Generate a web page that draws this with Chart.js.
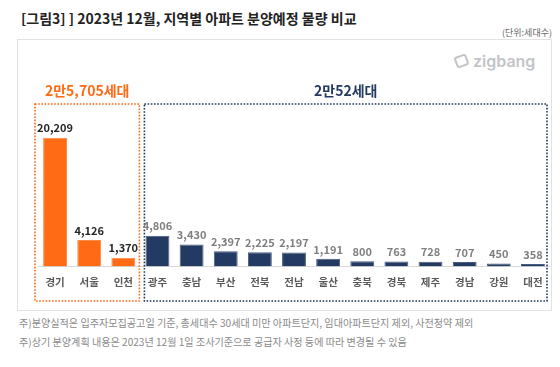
<!DOCTYPE html>
<html>
<head>
<meta charset="utf-8">
<script src="https://cdn.jsdelivr.net/npm/chart.js@4"></script>
<style>
  body { margin: 0; width: 560px; height: 367px; background: #fff; position: relative; overflow: hidden;
         font-family: "Noto Sans CJK KR", "Noto Sans", sans-serif; }
  #title { position: absolute; left: 21px; top: 8px; font-size: 14px; font-weight: bold; color: #222; white-space: nowrap; }
  #unit { position: absolute; right: 8px; top: 26px; font-size: 9px; color: #666; }
  #card { position: absolute; left: 17px; top: 39px; width: 535px; height: 272px; border: 1px solid #e2e2e2; box-sizing: border-box; }
  #logo { position: absolute; left: 455px; top: 51px; font-family: "Inter", "Noto Sans", sans-serif; font-size: 16px; font-weight: 600; color: #c2c4c8; }
  #logo i { display: inline-block; width: 9px; height: 8px; border: 2px solid #c2c4c8; border-radius: 3px; transform: rotate(-20deg); margin-right: 5px; vertical-align: 0px; }
  .note { position: absolute; left: 19px; font-size: 10.1px; color: #8a8a8a; white-space: nowrap; }
  #wrap { position: absolute; left: 0; top: 0; width: 560px; height: 367px; }
</style>
</head>
<body>
<div id="title">[그림3] ] 2023년 12월, 지역별 아파트 분양예정 물량 비교</div>
<div id="unit">(단위:세대수)</div>
<div id="card"></div>
<div id="logo"><i></i>zigbang</div>
<div class="note" style="top:315px">주)분양실적은 입주자모집공고일 기준, 총세대수 30세대 미만 아파트단지, 임대아파트단지 제외, 사전청약 제외</div>
<div class="note" style="top:334px">주)상기 분양계획 내용은 2023년 12월 1일 조사기준으로 공급자 사정 등에 따라 변경될 수 있음</div>
<div id="wrap"><canvas id="chart"></canvas></div>
<script>
const regions = ['경기', '서울', '인천', '광주', '충남', '부산', '전북', '전남', '울산', '충북', '경북', '제주', '경남', '강원', '대전'];
const units = [20209, 4126, 1370, 4806, 3430, 2397, 2225, 2197, 1191, 800, 763, 728, 707, 450, 358];
const metroCount = 3; // first 3 regions = 수도권
const groupTitles = ['2만5,705세대', '2만52세대'];

const orange = '#ff6a14';
const navy = '#233a63';

const ctx = document.getElementById('chart').getContext('2d');

// dotted group boxes, group titles and value labels
const decorations = {
    id: 'decorations',
    afterDatasetsDraw(chart) {
        const c = chart.ctx;
        const x = chart.scales.x;
        const half = (x.getPixelForValue(1) - x.getPixelForValue(0)) / 2;
        const top = chart.chartArea.top;
        const bottom = 301;
        const groups = [
            { from: 0, to: metroCount - 1, color: orange, title: groupTitles[0] },
            { from: metroCount, to: regions.length - 1, color: navy, title: groupTitles[1] }
        ];
        groups.forEach((g, i) => {
            const left = x.getPixelForValue(g.from) - half + (i === 0 ? -3 : 4);
            const right = x.getPixelForValue(g.to) + half - (i === 0 ? 1 : 3);
            c.save();
            c.strokeStyle = g.color;
            c.lineWidth = 1.6;
            c.setLineDash([1.6, 1.6]);
            c.strokeRect(left, top, right - left, bottom - top);
            c.restore();
            c.save();
            c.fillStyle = g.color;
            c.font = 'bold 14px "Noto Sans CJK KR"';
            c.textAlign = 'center';
            c.textBaseline = 'middle';
            c.fillText(g.title, (left + right) / 2, top - 13);
            c.restore();
        });

        const meta = chart.getDatasetMeta(0);
        c.save();
        c.textAlign = 'center';
        c.textBaseline = 'bottom';
        meta.data.forEach((bar, i) => {
            c.fillStyle = i < metroCount ? '#262626' : '#7f7f7f';
            c.font = 'bold 11px "Noto Sans CJK KR"';
            c.fillText(units[i].toLocaleString('en-US'), bar.x, bar.y - 4);
        });
        c.restore();
    }
};

const chart = new Chart(ctx, {
    type: 'bar',
    data: {
        labels: regions,
        datasets: [
            {
                data: units,
                backgroundColor: units.map((v, i) => i < metroCount ? orange : navy),
                borderColor: units.map((v, i) => i < metroCount ? '#ff8a45' : '#4a5d80'),
                borderWidth: 1,
                barPercentage: 0.7,
                categoryPercentage: 1
            }
        ]
    },
    options: {
        responsive: true,
        maintainAspectRatio: false,
        animation: false,
        layout: { padding: { left: 38, right: 10, top: 104, bottom: 70 } },
        plugins: { legend: { display: false }, tooltip: { enabled: false } },
        scales: {
            x: {
                grid: { display: false, drawTicks: false },
                border: { color: '#d9d9d9', width: 1 },
                ticks: { color: '#595959', font: { family: 'Noto Sans CJK KR', size: 10.5, weight: 'bold' }, padding: 9 }
            },
            y: {
                display: false,
                min: 0,
                max: 25500
            }
        }
    },
    plugins: [decorations]
});
</script>
</body>
</html>
